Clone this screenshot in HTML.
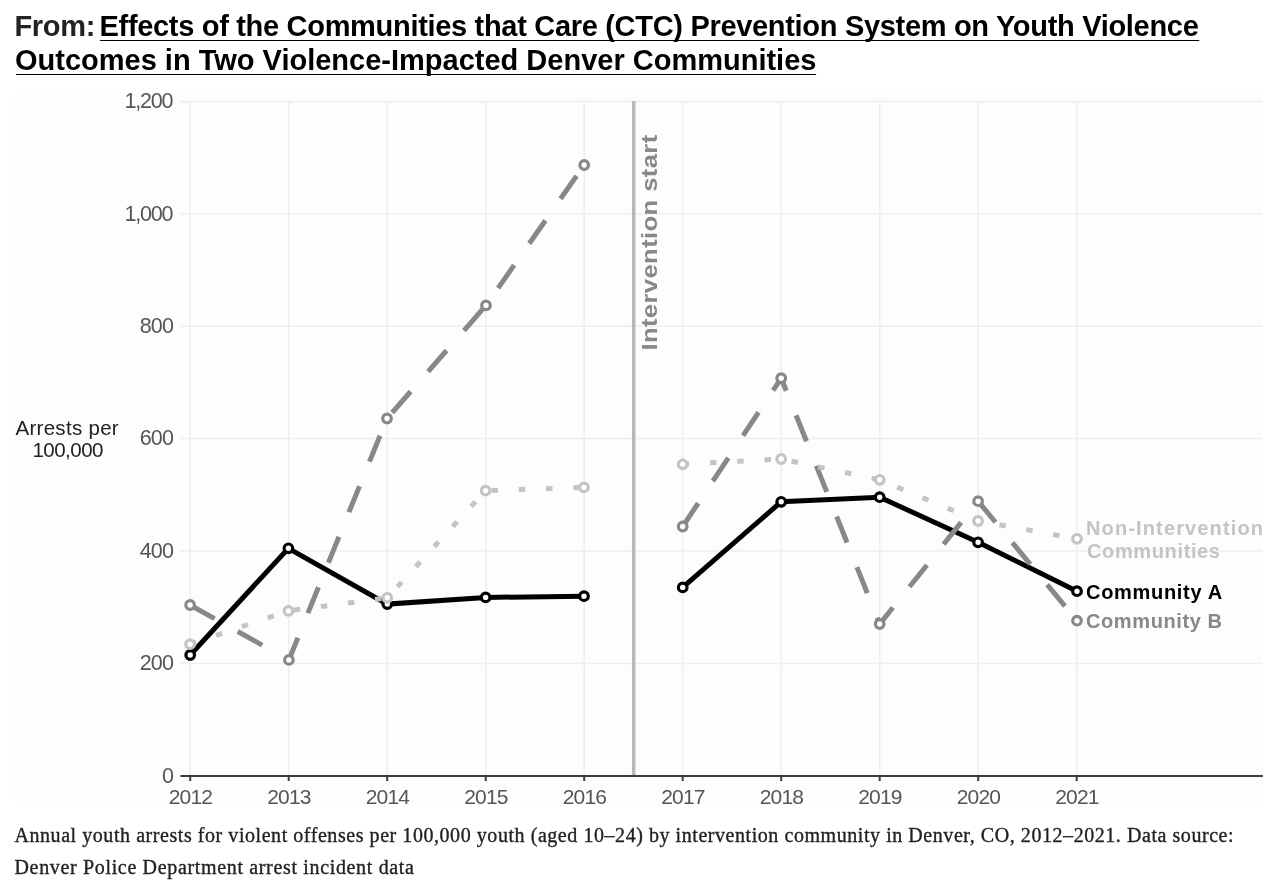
<!DOCTYPE html>
<html><head><meta charset="utf-8"><style>
html,body{margin:0;padding:0;background:#fff;width:1281px;height:889px;overflow:hidden;position:relative}

</style></head><body>
<svg width="1281" height="889" viewBox="0 0 1281 889" style="position:absolute;left:0;top:0;will-change:transform">
<rect x="0" y="0" width="1281" height="889" fill="#ffffff"/>
<text x="14.5" y="35.8" font-family="&quot;Liberation Sans&quot;, sans-serif" font-weight="bold" font-size="29" letter-spacing="-0.34" fill="#222222">From:</text>
<text x="99.5" y="35.8" font-family="&quot;Liberation Sans&quot;, sans-serif" font-weight="bold" font-size="29" letter-spacing="-0.31" fill="#000000">Effects of the Communities that Care (CTC) Prevention System on Youth Violence</text>
<line x1="99.9" y1="40.5" x2="1199.2" y2="40.5" stroke="#000" stroke-width="1.2"/>
<text x="15" y="69.7" font-family="&quot;Liberation Sans&quot;, sans-serif" font-weight="bold" font-size="29" fill="#000000">Outcomes in Two Violence-Impacted Denver Communities</text>
<line x1="16" y1="74.5" x2="816.1" y2="74.5" stroke="#000" stroke-width="1.2"/>
<rect x="15" y="93" width="1248" height="711" fill="#fdfdfd"/>
<line x1="180.4" y1="663.4" x2="1262.5" y2="663.4" stroke="#eeeeee" stroke-width="1.5"/>
<line x1="180.4" y1="551.0" x2="1262.5" y2="551.0" stroke="#eeeeee" stroke-width="1.5"/>
<line x1="180.4" y1="438.6" x2="1262.5" y2="438.6" stroke="#eeeeee" stroke-width="1.5"/>
<line x1="180.4" y1="326.2" x2="1262.5" y2="326.2" stroke="#eeeeee" stroke-width="1.5"/>
<line x1="180.4" y1="213.8" x2="1262.5" y2="213.8" stroke="#eeeeee" stroke-width="1.5"/>
<line x1="180.4" y1="101.4" x2="1262.5" y2="101.4" stroke="#eeeeee" stroke-width="1.5"/>
<line x1="190.2" y1="100.7" x2="190.2" y2="775.8" stroke="#eeeeee" stroke-width="1.5"/>
<line x1="288.7" y1="100.7" x2="288.7" y2="775.8" stroke="#eeeeee" stroke-width="1.5"/>
<line x1="387.2" y1="100.7" x2="387.2" y2="775.8" stroke="#eeeeee" stroke-width="1.5"/>
<line x1="485.7" y1="100.7" x2="485.7" y2="775.8" stroke="#eeeeee" stroke-width="1.5"/>
<line x1="584.2" y1="100.7" x2="584.2" y2="775.8" stroke="#eeeeee" stroke-width="1.5"/>
<line x1="682.7" y1="100.7" x2="682.7" y2="775.8" stroke="#eeeeee" stroke-width="1.5"/>
<line x1="781.2" y1="100.7" x2="781.2" y2="775.8" stroke="#eeeeee" stroke-width="1.5"/>
<line x1="879.7" y1="100.7" x2="879.7" y2="775.8" stroke="#eeeeee" stroke-width="1.5"/>
<line x1="978.2" y1="100.7" x2="978.2" y2="775.8" stroke="#eeeeee" stroke-width="1.5"/>
<line x1="1076.7" y1="100.7" x2="1076.7" y2="775.8" stroke="#eeeeee" stroke-width="1.5"/>
<line x1="633.7" y1="101" x2="633.7" y2="776" stroke="#b8b8b8" stroke-width="3.5"/>
<line x1="180.4" y1="776" x2="1262.8" y2="776" stroke="#3c3c3c" stroke-width="2"/>
<line x1="190.2" y1="775" x2="190.2" y2="781" stroke="#3c3c3c" stroke-width="2"/>
<line x1="288.7" y1="775" x2="288.7" y2="781" stroke="#3c3c3c" stroke-width="2"/>
<line x1="387.2" y1="775" x2="387.2" y2="781" stroke="#3c3c3c" stroke-width="2"/>
<line x1="485.7" y1="775" x2="485.7" y2="781" stroke="#3c3c3c" stroke-width="2"/>
<line x1="584.2" y1="775" x2="584.2" y2="781" stroke="#3c3c3c" stroke-width="2"/>
<line x1="682.7" y1="775" x2="682.7" y2="781" stroke="#3c3c3c" stroke-width="2"/>
<line x1="781.2" y1="775" x2="781.2" y2="781" stroke="#3c3c3c" stroke-width="2"/>
<line x1="879.7" y1="775" x2="879.7" y2="781" stroke="#3c3c3c" stroke-width="2"/>
<line x1="978.2" y1="775" x2="978.2" y2="781" stroke="#3c3c3c" stroke-width="2"/>
<line x1="1076.7" y1="775" x2="1076.7" y2="781" stroke="#3c3c3c" stroke-width="2"/>
<text transform="translate(656.6,350.6) rotate(-90) scale(1.143,1)" font-family="&quot;Liberation Sans&quot;, sans-serif" font-weight="bold" font-size="22.5" letter-spacing="0.3" fill="#888888">Intervention start</text>
<text x="173.2" y="782.6" text-anchor="end" font-family="&quot;Liberation Sans&quot;, sans-serif" font-size="21.5" letter-spacing="-0.80" fill="#555555">0</text>
<text x="173.2" y="670.2" text-anchor="end" font-family="&quot;Liberation Sans&quot;, sans-serif" font-size="21.5" letter-spacing="-0.80" fill="#555555">200</text>
<text x="173.2" y="557.8" text-anchor="end" font-family="&quot;Liberation Sans&quot;, sans-serif" font-size="21.5" letter-spacing="-0.80" fill="#555555">400</text>
<text x="173.2" y="445.4" text-anchor="end" font-family="&quot;Liberation Sans&quot;, sans-serif" font-size="21.5" letter-spacing="-0.80" fill="#555555">600</text>
<text x="173.2" y="333.0" text-anchor="end" font-family="&quot;Liberation Sans&quot;, sans-serif" font-size="21.5" letter-spacing="-0.80" fill="#555555">800</text>
<text x="172.4" y="220.6" text-anchor="end" font-family="&quot;Liberation Sans&quot;, sans-serif" font-size="21.5" letter-spacing="-1.20" fill="#555555">1,000</text>
<text x="172.4" y="108.2" text-anchor="end" font-family="&quot;Liberation Sans&quot;, sans-serif" font-size="21.5" letter-spacing="-1.20" fill="#555555">1,200</text>
<text x="190.4" y="803.6" text-anchor="middle" font-family="&quot;Liberation Sans&quot;, sans-serif" font-size="21" letter-spacing="-0.8" fill="#555555">2012</text>
<text x="288.9" y="803.6" text-anchor="middle" font-family="&quot;Liberation Sans&quot;, sans-serif" font-size="21" letter-spacing="-0.8" fill="#555555">2013</text>
<text x="387.4" y="803.6" text-anchor="middle" font-family="&quot;Liberation Sans&quot;, sans-serif" font-size="21" letter-spacing="-0.8" fill="#555555">2014</text>
<text x="485.9" y="803.6" text-anchor="middle" font-family="&quot;Liberation Sans&quot;, sans-serif" font-size="21" letter-spacing="-0.8" fill="#555555">2015</text>
<text x="584.4" y="803.6" text-anchor="middle" font-family="&quot;Liberation Sans&quot;, sans-serif" font-size="21" letter-spacing="-0.8" fill="#555555">2016</text>
<text x="682.9" y="803.6" text-anchor="middle" font-family="&quot;Liberation Sans&quot;, sans-serif" font-size="21" letter-spacing="-0.8" fill="#555555">2017</text>
<text x="781.4" y="803.6" text-anchor="middle" font-family="&quot;Liberation Sans&quot;, sans-serif" font-size="21" letter-spacing="-0.8" fill="#555555">2018</text>
<text x="879.9" y="803.6" text-anchor="middle" font-family="&quot;Liberation Sans&quot;, sans-serif" font-size="21" letter-spacing="-0.8" fill="#555555">2019</text>
<text x="978.4" y="803.6" text-anchor="middle" font-family="&quot;Liberation Sans&quot;, sans-serif" font-size="21" letter-spacing="-0.8" fill="#555555">2020</text>
<text x="1076.9" y="803.6" text-anchor="middle" font-family="&quot;Liberation Sans&quot;, sans-serif" font-size="21" letter-spacing="-0.8" fill="#555555">2021</text>
<text x="67.2" y="434.6" text-anchor="middle" font-family="&quot;Liberation Sans&quot;, sans-serif" font-size="20.5" letter-spacing="0.3" fill="#222222">Arrests per</text>
<text x="67.7" y="457.3" text-anchor="middle" font-family="&quot;Liberation Sans&quot;, sans-serif" font-size="20.5" letter-spacing="-0.5" fill="#222222">100,000</text>
<polyline points="190.2,655.0 288.4,548.3 387.3,604.1 485.6,597.4 584.0,596.2" fill="none" stroke="#000000" stroke-width="5" stroke-linejoin="miter" /><circle cx="190.2" cy="655.0" r="4.3" fill="#ffffff" stroke="#000000" stroke-width="3.2"/><circle cx="288.4" cy="548.3" r="4.3" fill="#ffffff" stroke="#000000" stroke-width="3.2"/><circle cx="387.3" cy="604.1" r="4.3" fill="#ffffff" stroke="#000000" stroke-width="3.2"/><circle cx="485.6" cy="597.4" r="4.3" fill="#ffffff" stroke="#000000" stroke-width="3.2"/><circle cx="584.0" cy="596.2" r="4.3" fill="#ffffff" stroke="#000000" stroke-width="3.2"/>
<polyline points="190.1,605.0 288.9,659.9 387.0,418.5 486.0,305.4 584.2,165.0" fill="none" stroke="#888888" stroke-width="5" stroke-linejoin="miter" stroke-dasharray="28 26.5"/><circle cx="190.1" cy="605.0" r="4.3" fill="#ffffff" stroke="#888888" stroke-width="3.2"/><circle cx="288.9" cy="659.9" r="4.3" fill="#ffffff" stroke="#888888" stroke-width="3.2"/><circle cx="387.0" cy="418.5" r="4.3" fill="#ffffff" stroke="#888888" stroke-width="3.2"/><circle cx="486.0" cy="305.4" r="4.3" fill="#ffffff" stroke="#888888" stroke-width="3.2"/><circle cx="584.2" cy="165.0" r="4.3" fill="#ffffff" stroke="#888888" stroke-width="3.2"/>
<polyline points="190.1,644.2 288.4,610.9 387.3,597.8 485.6,490.6 584.0,487.4" fill="none" stroke="#c4c4c4" stroke-width="5" stroke-linejoin="miter" stroke-dasharray="6.5 20.8"/><circle cx="190.1" cy="644.2" r="4.3" fill="#ffffff" stroke="#c4c4c4" stroke-width="3.2"/><circle cx="288.4" cy="610.9" r="4.3" fill="#ffffff" stroke="#c4c4c4" stroke-width="3.2"/><circle cx="387.3" cy="597.8" r="4.3" fill="#ffffff" stroke="#c4c4c4" stroke-width="3.2"/><circle cx="485.6" cy="490.6" r="4.3" fill="#ffffff" stroke="#c4c4c4" stroke-width="3.2"/><circle cx="584.0" cy="487.4" r="4.3" fill="#ffffff" stroke="#c4c4c4" stroke-width="3.2"/>
<polyline points="682.7,587.4 781.2,501.8 879.7,497.2 978.1,542.3 1077.0,591.2" fill="none" stroke="#000000" stroke-width="5" stroke-linejoin="miter" /><circle cx="682.7" cy="587.4" r="4.3" fill="#ffffff" stroke="#000000" stroke-width="3.2"/><circle cx="781.2" cy="501.8" r="4.3" fill="#ffffff" stroke="#000000" stroke-width="3.2"/><circle cx="879.7" cy="497.2" r="4.3" fill="#ffffff" stroke="#000000" stroke-width="3.2"/><circle cx="978.1" cy="542.3" r="4.3" fill="#ffffff" stroke="#000000" stroke-width="3.2"/><circle cx="1077.0" cy="591.2" r="4.3" fill="#ffffff" stroke="#000000" stroke-width="3.2"/>
<polyline points="682.7,526.5 781.2,378.2 879.7,624.0 978.1,501.2 1077.0,620.7" fill="none" stroke="#888888" stroke-width="5" stroke-linejoin="miter" stroke-dasharray="28 26.5"/><circle cx="682.7" cy="526.5" r="4.3" fill="#ffffff" stroke="#888888" stroke-width="3.2"/><circle cx="781.2" cy="378.2" r="4.3" fill="#ffffff" stroke="#888888" stroke-width="3.2"/><circle cx="879.7" cy="624.0" r="4.3" fill="#ffffff" stroke="#888888" stroke-width="3.2"/><circle cx="978.1" cy="501.2" r="4.3" fill="#ffffff" stroke="#888888" stroke-width="3.2"/><circle cx="1077.0" cy="620.7" r="4.3" fill="#ffffff" stroke="#888888" stroke-width="3.2"/>
<polyline points="682.7,464.3 781.2,459.0 879.7,479.8 978.1,521.0 1077.0,538.8" fill="none" stroke="#c4c4c4" stroke-width="5" stroke-linejoin="miter" stroke-dasharray="6.5 20.8"/><circle cx="682.7" cy="464.3" r="4.3" fill="#ffffff" stroke="#c4c4c4" stroke-width="3.2"/><circle cx="781.2" cy="459.0" r="4.3" fill="#ffffff" stroke="#c4c4c4" stroke-width="3.2"/><circle cx="879.7" cy="479.8" r="4.3" fill="#ffffff" stroke="#c4c4c4" stroke-width="3.2"/><circle cx="978.1" cy="521.0" r="4.3" fill="#ffffff" stroke="#c4c4c4" stroke-width="3.2"/><circle cx="1077.0" cy="538.8" r="4.3" fill="#ffffff" stroke="#c4c4c4" stroke-width="3.2"/>
<text x="1086" y="535.1" font-family="&quot;Liberation Sans&quot;, sans-serif" font-weight="bold" font-size="20" letter-spacing="1.13" fill="#c4c4c4">Non-Intervention</text>
<text x="1087" y="558" font-family="&quot;Liberation Sans&quot;, sans-serif" font-weight="bold" font-size="20" letter-spacing="0.63" fill="#c4c4c4">Communities</text>
<text x="1086" y="598.5" font-family="&quot;Liberation Sans&quot;, sans-serif" font-weight="bold" font-size="20" letter-spacing="0.7" fill="#000000">Community A</text>
<text x="1086" y="627.9" font-family="&quot;Liberation Sans&quot;, sans-serif" font-weight="bold" font-size="20" letter-spacing="0.6" fill="#888888">Community B</text>
<text x="14.5" y="841.9" font-family="&quot;Liberation Serif&quot;, serif" font-size="20" letter-spacing="0.555" fill="#222222" stroke="#222222" stroke-width="0.35">Annual youth arrests for violent offenses per 100,000 youth (aged 10&#8211;24) by intervention community in Denver, CO, 2012&#8211;2021. Data source:</text>
<text x="14.5" y="874" font-family="&quot;Liberation Serif&quot;, serif" font-size="20" letter-spacing="0.66" fill="#222222" stroke="#222222" stroke-width="0.35">Denver Police Department arrest incident data</text>
</svg>
</body></html>
